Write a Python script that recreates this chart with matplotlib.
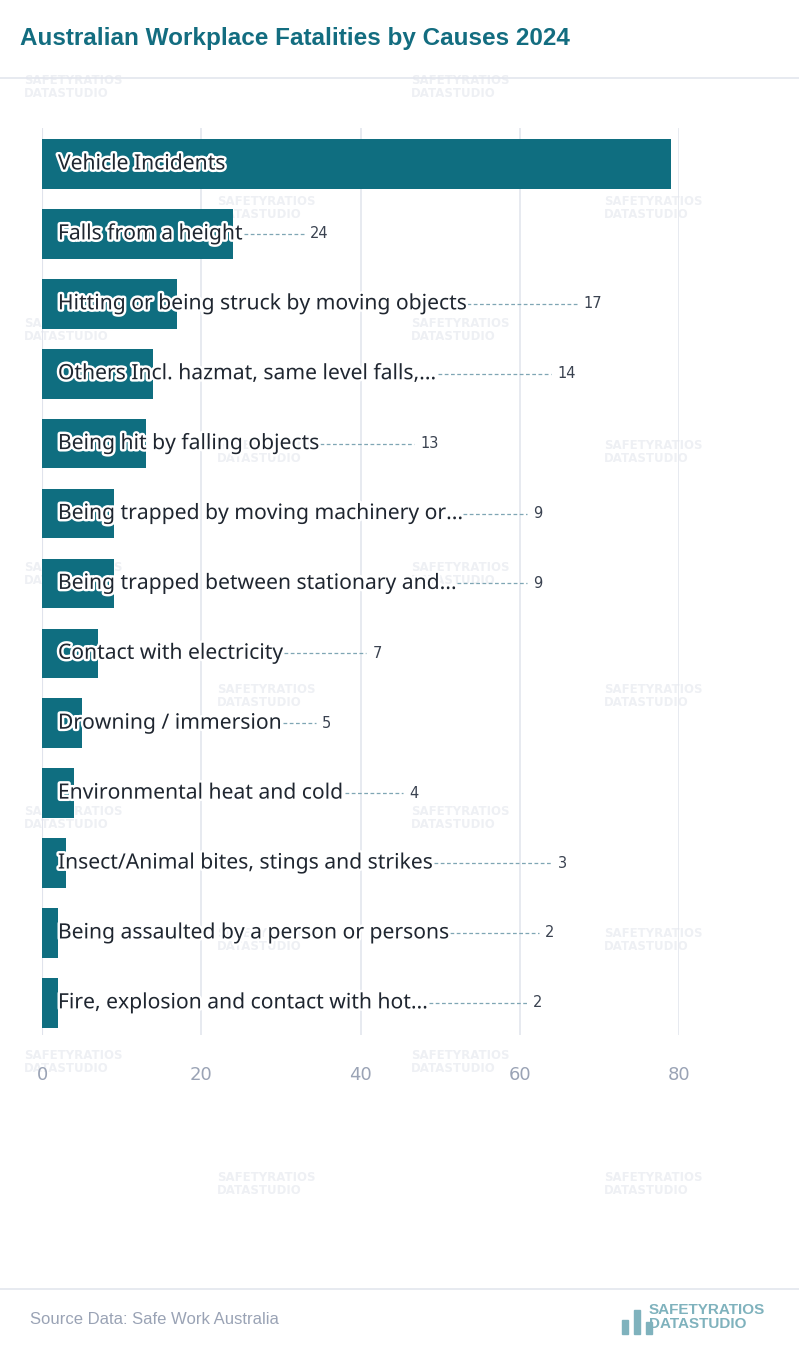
import matplotlib
matplotlib.use("Agg")
import matplotlib.pyplot as plt
import matplotlib.patheffects as pe

causes = ["Vehicle Incidents", "Falls from a height", "Hitting or being struck by moving objects",
          "Others Incl. hazmat, same level falls,...", "Being hit by falling objects",
          "Being trapped by moving machinery or...", "Being trapped between stationary and...",
          "Contact with electricity", "Drowning / immersion", "Environmental heat and cold",
          "Insect/Animal bites, stings and strikes", "Being assaulted by a person or persons",
          "Fire, explosion and contact with hot..."]
values = [79, 24, 17, 14, 13, 9, 9, 7, 5, 4, 3, 2, 2]
# where the value labels sit (data units)
value_x = [None, 33.7, 68, 64.7, 47.5, 61.7, 61.7, 41.5, 35.2, 46.1, 64.8, 63.2, 61.7]

W, H = 799, 1354
fig = plt.figure(figsize=(W / 100, H / 100), dpi=100)
ax = fig.add_axes([42 / W, 1 - 1035 / H, (679 - 42) / W, (1035 - 128) / H])
ax.patch.set_alpha(0)

bar_c = "#0f6e80"
for i, v in enumerate(values):
    ax.barh(i, v, height=0.71, color=bar_c, zorder=2)

ax.set_xlim(0, 80)
ax.set_ylim(12.46, -0.515)
ax.set_xticks([0, 20, 40, 60, 80])
ax.tick_params(axis="x", length=0, colors="#9aa3b5", labelsize=13, pad=22)
ax.set_yticks([])
ax.grid(axis="x", color="#e3e6ee", lw=1.2, zorder=0)
for s in ax.spines.values():
    s.set_visible(False)
ax.axvline(0, color="#d5d9e3", lw=1.5, zorder=1)

fig.canvas.draw()
r = fig.canvas.get_renderer()
inv = ax.transData.inverted()
for i, (c, v) in enumerate(zip(causes, values)):
    t = ax.text(2.0, i, c, va="center", ha="left", fontsize=15.2, color="#1f2630",
                family="Noto Sans", zorder=5,
                path_effects=[pe.withStroke(linewidth=3.5, foreground="white")])
    if value_x[i] is None:
        continue
    bb = t.get_window_extent(r)
    xend = inv.transform((bb.x1, bb.y0))[0]
    ax.plot([xend + 0.2, value_x[i] - 0.8], [i, i], ls=(0, (3, 2)), lw=0.9,
            color="#7fa6b4", zorder=4)
    ax.text(value_x[i], i, str(v), va="center", ha="left", fontsize=10.5,
            color="#3a4250", zorder=5)

# watermarks
for (x, y) in [(0, 87), (387, 87), (193, 208), (580, 208), (0, 330), (387, 330),
               (193, 452), (580, 452), (0, 574), (387, 574),
               (193, 696), (580, 696), (0, 818), (387, 818), (193, 940),
               (580, 940), (0, 1062), (387, 1062), (193, 1184), (580, 1184)]:
    fig.text((x + 24) / W, 1 - y / H, "SAFETYRATIOS\nDATASTUDIO", fontsize=8.5,
             fontweight="bold", color="#eef0f4", va="center", ha="left", linespacing=1.0,
             zorder=-1)

fig.text(20 / W, 1 - 38 / H, "Australian Workplace Fatalities by Causes 2024", fontsize=17.5,
         fontweight="bold", color="#136d80", va="center", family="Liberation Sans")
fig.add_artist(plt.Line2D([0, 1], [1 - 78 / H, 1 - 78 / H], color="#e3e6ee", lw=1.2))
fig.add_artist(plt.Line2D([0, 1], [1 - 1289 / H, 1 - 1289 / H], color="#e3e6ee", lw=1.2))
fig.text(30 / W, 1 - 1320 / H, "Source Data: Safe Work Australia", fontsize=12,
         color="#9aa3b5", va="center", family="Liberation Sans")
fig.text(649 / W, 1 - 1317 / H, "SAFETYRATIOS\nDATASTUDIO", fontsize=11, fontweight="bold",
         color="#7fb2bd", va="center", linespacing=1.0, family="Liberation Sans")
for bx, bh in [(622, 14), (634, 24), (646, 12)]:
    fig.add_artist(plt.Rectangle((bx / W, 1 - 1334 / H), 6 / W, bh / H, color="#7fb2bd"))

fig.savefig("out.png", dpi=100)
